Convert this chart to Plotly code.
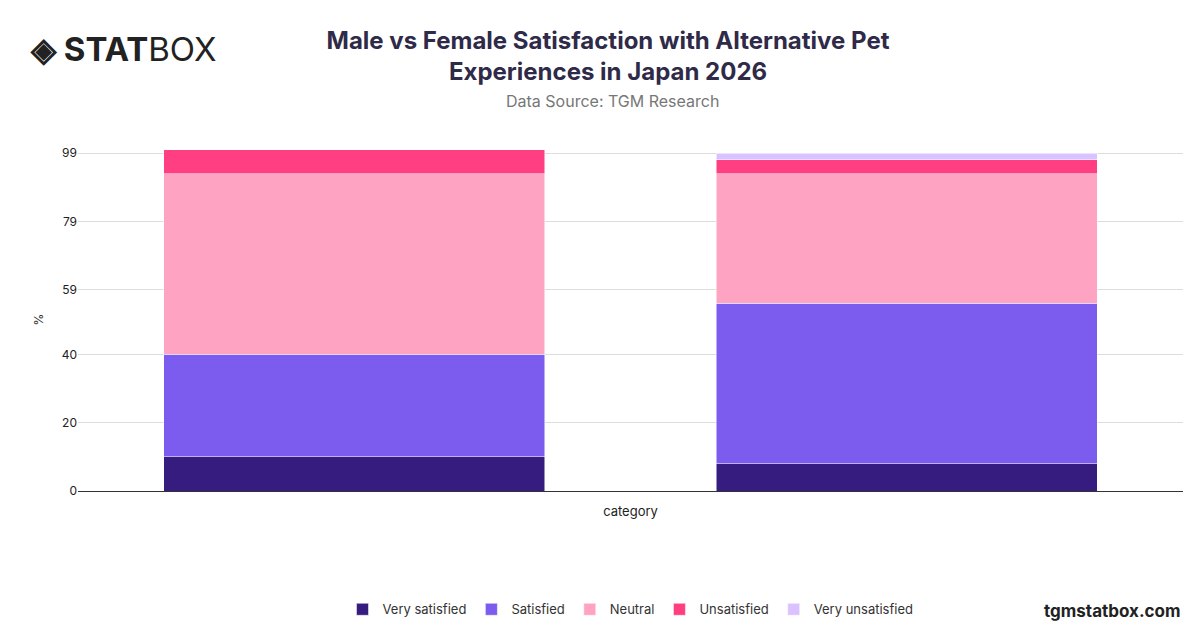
import plotly.graph_objects as go

# Données
categories = ["Male", "Female"]
very_satisfied = [10, 8]
satisfied = [30, 47]
neutral = [53, 38]
unsatisfied = [7, 4]
very_unsatisfied = [0, 2]
tick_vals = [0, 20, 40, 59, 79, 99]

series = [
    ("Very satisfied", very_satisfied, "#371c80"),
    ("Satisfied", satisfied, "#7b5cee"),
    ("Neutral", neutral, "#ffa3c2"),
    ("Unsatisfied", unsatisfied, "#ff3f81"),
    ("Very unsatisfied", very_unsatisfied, "#d9c2ff"),
]

fig = go.Figure()
for name, vals, color in series:
    fig.add_trace(go.Bar(x=categories, y=vals, name=name, marker_color=color,
                         marker_line_width=0.5, marker_line_color="white"))

fig.update_layout(
    barmode="stack",
    bargap=0.31,
    width=1200, height=628,
    paper_bgcolor="white", plot_bgcolor="white",
    font=dict(family="Inter, Roboto, sans-serif", color="#333"),
    margin=dict(l=70, r=25, t=140, b=141),
    title=dict(text="<b>Male vs Female Satisfaction with Alternative Pet<br>Experiences in Japan 2026</b>",
               x=0.5, xanchor="center", y=0.935, font=dict(size=24, color="#2e2a48")),
    xaxis=dict(title=dict(text="category", font=dict(size=13, color="#222")),
               showticklabels=False, showline=True, linecolor="#333"),
    yaxis=dict(title=dict(text="%", font=dict(size=12)), range=[0, 100.5],
               tickvals=tick_vals, tickfont=dict(size=12, color="#222"),
               gridcolor="#dddddd", zeroline=False),
    legend=dict(orientation="h", x=0.5, xanchor="center", y=-0.345, yanchor="middle",
                font=dict(size=13, color="#333"), traceorder="normal",
                itemwidth=30, tracegroupgap=0),
    showlegend=True,
)
fig.add_annotation(text="Data Source: TGM Research", xref="paper", yref="paper",
                   x=0.5, y=1.138, xanchor="center", yanchor="middle", showarrow=False,
                   font=dict(size=16, color="#777"), xshift=-18)
fig.add_annotation(text="<b>◈ STAT</b>BOX", xref="paper", yref="paper",
                   x=-0.045, y=1.29, xanchor="left", yanchor="middle", showarrow=False,
                   font=dict(size=33, color="#222"))
fig.add_annotation(text="<b>tgmstatbox.com</b>", xref="paper", yref="paper",
                   x=1.0, y=-0.35, xanchor="right", yanchor="middle", showarrow=False,
                   font=dict(size=17, color="#222"))

fig.write_html("out.html")
